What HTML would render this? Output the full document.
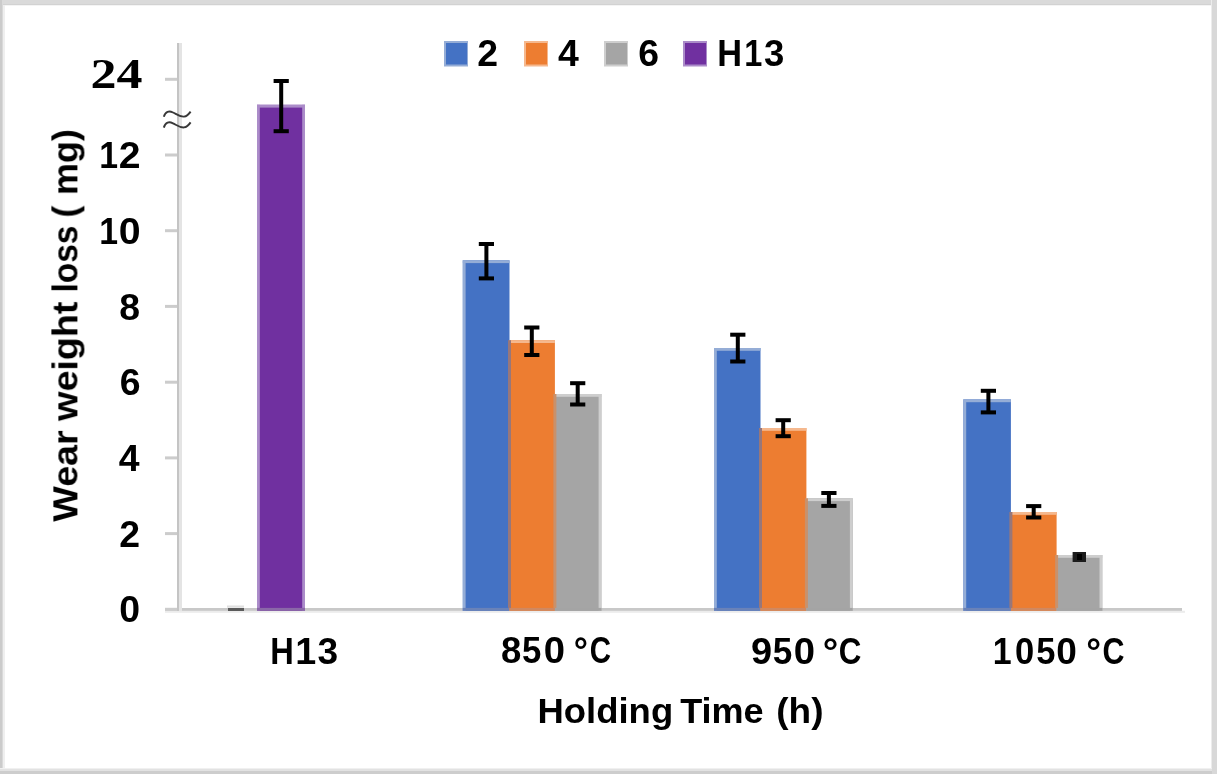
<!DOCTYPE html>
<html><head><meta charset="utf-8"><style>
html,body{margin:0;padding:0;background:#fff;}
body{width:1217px;height:774px;overflow:hidden;}
svg{display:block;}
.t{filter:url(#bl);}
</style></head><body>
<svg width="1217" height="774" viewBox="0 0 1217 774">
<defs><filter id="bl" x="-5%" y="-20%" width="110%" height="140%"><feGaussianBlur stdDeviation="0.5"/></filter></defs>
<rect x="0" y="0" width="1217" height="774" fill="#ffffff"/>
<rect x="0" y="0" width="1217" height="4" fill="#dadada"/>
<rect x="0" y="4" width="1217" height="1" fill="#d2d2d2"/>
<rect x="0" y="5" width="1217" height="1" fill="#f4f4f4"/>
<rect x="0" y="0" width="2" height="774" fill="#cbcbcb"/>
<rect x="2" y="4" width="1" height="770" fill="#d9d9d9"/>
<rect x="3" y="5" width="2" height="769" fill="#efefef"/>
<rect x="1211" y="0" width="1" height="774" fill="#ececec"/>
<rect x="1212" y="0" width="5" height="774" fill="#d8d8d8"/>
<rect x="0" y="768" width="1212" height="1" fill="#f0f0f0"/>
<rect x="0" y="769" width="1212" height="2" fill="#e2e2e2"/>
<rect x="0" y="771" width="1212" height="3" fill="#cdcdcd"/>
<rect x="165" y="608" width="1017" height="3" fill="#c8c8c8"/>
<rect x="165" y="610.8" width="1020" height="2" fill="#ececec"/>
<rect x="257.0" y="104.8" width="48.0" height="506.0" fill="#7030a0"/>
<rect x="257.0" y="104.8" width="48.0" height="2.8" fill="#ab8cc9"/>
<rect x="257.0" y="104.8" width="2.8" height="506.0" fill="#ab8cc9"/>
<rect x="302.2" y="104.8" width="2.8" height="506.0" fill="#ab8cc9"/>
<rect x="257.0" y="607.9" width="48.0" height="2.9" fill="#8a68a8"/>
<rect x="462.8" y="260.3" width="46.7" height="350.5" fill="#4472c4"/>
<rect x="462.8" y="260.3" width="46.7" height="2.8" fill="#95add6"/>
<rect x="462.8" y="260.3" width="2.8" height="350.5" fill="#95add6"/>
<rect x="462.8" y="607.9" width="46.7" height="2.9" fill="#6a82b8"/>
<rect x="509.5" y="340.2" width="45.4" height="270.6" fill="#ed7d31"/>
<rect x="509.5" y="340.2" width="45.4" height="2.8" fill="#f5b88e"/>
<rect x="509.5" y="607.9" width="45.4" height="2.9" fill="#d08860"/>
<rect x="554.9" y="394.0" width="46.5" height="216.8" fill="#a5a5a5"/>
<rect x="554.9" y="394.0" width="46.5" height="2.8" fill="#cecece"/>
<rect x="598.6" y="394.0" width="2.8" height="216.8" fill="#cecece"/>
<rect x="554.9" y="607.9" width="46.5" height="2.9" fill="#a4a4a4"/>
<rect x="508.0" y="340.2" width="3" height="267.7" fill="#98777a"/>
<rect x="553.4" y="394.0" width="3" height="213.9" fill="#c9916b"/>
<rect x="714.0" y="348.0" width="46.5" height="262.8" fill="#4472c4"/>
<rect x="714.0" y="348.0" width="46.5" height="2.8" fill="#95add6"/>
<rect x="714.0" y="348.0" width="2.8" height="262.8" fill="#95add6"/>
<rect x="714.0" y="607.9" width="46.5" height="2.9" fill="#6a82b8"/>
<rect x="760.5" y="428.0" width="45.9" height="182.8" fill="#ed7d31"/>
<rect x="760.5" y="428.0" width="45.9" height="2.8" fill="#f5b88e"/>
<rect x="760.5" y="607.9" width="45.9" height="2.9" fill="#d08860"/>
<rect x="806.4" y="498.3" width="46.3" height="112.5" fill="#a5a5a5"/>
<rect x="806.4" y="498.3" width="46.3" height="2.8" fill="#cecece"/>
<rect x="849.9" y="498.3" width="2.8" height="112.5" fill="#cecece"/>
<rect x="806.4" y="607.9" width="46.3" height="2.9" fill="#a4a4a4"/>
<rect x="759.0" y="428.0" width="3" height="179.9" fill="#98777a"/>
<rect x="804.9" y="498.3" width="3" height="109.6" fill="#c9916b"/>
<rect x="963.4" y="399.4" width="47.5" height="211.4" fill="#4472c4"/>
<rect x="963.4" y="399.4" width="47.5" height="2.8" fill="#95add6"/>
<rect x="963.4" y="399.4" width="2.8" height="211.4" fill="#95add6"/>
<rect x="963.4" y="607.9" width="47.5" height="2.9" fill="#6a82b8"/>
<rect x="1010.9" y="512.0" width="45.7" height="98.8" fill="#ed7d31"/>
<rect x="1010.9" y="512.0" width="45.7" height="2.8" fill="#f5b88e"/>
<rect x="1010.9" y="607.9" width="45.7" height="2.9" fill="#d08860"/>
<rect x="1056.6" y="555.0" width="45.7" height="55.8" fill="#a5a5a5"/>
<rect x="1056.6" y="555.0" width="45.7" height="2.8" fill="#cecece"/>
<rect x="1099.5" y="555.0" width="2.8" height="55.8" fill="#cecece"/>
<rect x="1056.6" y="607.9" width="45.7" height="2.9" fill="#a4a4a4"/>
<rect x="1009.4" y="512.0" width="3" height="95.9" fill="#98777a"/>
<rect x="1055.1" y="555.0" width="3" height="52.9" fill="#c9916b"/>
<rect x="177" y="43" width="2" height="568" fill="#c4c4c4"/>
<rect x="179" y="43" width="3" height="568" fill="#e4e4e4"/>
<rect x="165" y="607.8" width="12" height="3" fill="#cccccc"/>
<rect x="165" y="532.1" width="12" height="3" fill="#cccccc"/>
<rect x="165" y="456.4" width="12" height="3" fill="#cccccc"/>
<rect x="165" y="380.7" width="12" height="3" fill="#cccccc"/>
<rect x="165" y="304.9" width="12" height="3" fill="#cccccc"/>
<rect x="165" y="229.2" width="12" height="3" fill="#cccccc"/>
<rect x="165" y="153.5" width="12" height="3" fill="#cccccc"/>
<rect x="165" y="77.8" width="12" height="3" fill="#cccccc"/>
<rect x="227" y="605.5" width="17" height="2.2" fill="#e0e0e0"/>
<rect x="228" y="608" width="16" height="3" fill="#5a5a5a"/>
<rect x="279.2" y="81.0" width="4" height="50.2" fill="#000"/>
<rect x="273.6" y="79.0" width="15.2" height="4" fill="#000"/>
<rect x="273.6" y="129.2" width="15.2" height="4" fill="#000"/>
<rect x="484.4" y="244.0" width="4" height="34.4" fill="#000"/>
<rect x="478.8" y="242.0" width="15.2" height="4" fill="#000"/>
<rect x="478.8" y="276.4" width="15.2" height="4" fill="#000"/>
<rect x="529.8" y="327.5" width="4" height="27.5" fill="#000"/>
<rect x="524.2" y="325.5" width="15.2" height="4" fill="#000"/>
<rect x="524.2" y="353.0" width="15.2" height="4" fill="#000"/>
<rect x="575.7" y="383.2" width="4" height="21.3" fill="#000"/>
<rect x="570.1" y="381.2" width="15.2" height="4" fill="#000"/>
<rect x="570.1" y="402.5" width="15.2" height="4" fill="#000"/>
<rect x="735.8" y="334.7" width="4" height="26.8" fill="#000"/>
<rect x="730.2" y="332.7" width="15.2" height="4" fill="#000"/>
<rect x="730.2" y="359.5" width="15.2" height="4" fill="#000"/>
<rect x="781.2" y="420.2" width="4" height="16.0" fill="#000"/>
<rect x="775.6" y="418.2" width="15.2" height="4" fill="#000"/>
<rect x="775.6" y="434.2" width="15.2" height="4" fill="#000"/>
<rect x="826.9" y="493.0" width="4" height="12.9" fill="#000"/>
<rect x="821.3" y="491.0" width="15.2" height="4" fill="#000"/>
<rect x="821.3" y="503.9" width="15.2" height="4" fill="#000"/>
<rect x="986.4" y="390.8" width="4" height="21.6" fill="#000"/>
<rect x="980.8" y="388.8" width="15.2" height="4" fill="#000"/>
<rect x="980.8" y="410.4" width="15.2" height="4" fill="#000"/>
<rect x="1031.7" y="506.1" width="4" height="11.4" fill="#000"/>
<rect x="1026.1" y="504.1" width="15.2" height="4" fill="#000"/>
<rect x="1026.1" y="515.5" width="15.2" height="4" fill="#000"/>
<rect x="1072.6" y="552" width="13.4" height="10" fill="#1c1c1c"/>
<rect x="1077" y="554" width="5" height="6" fill="#000"/>
<rect x="444" y="41" width="24" height="25.5" fill="#95add6"/>
<rect x="446" y="43" width="21" height="21.5" fill="#4472c4"/>
<rect x="524" y="41" width="24" height="25.5" fill="#f5b88e"/>
<rect x="526" y="43" width="21" height="21.5" fill="#ed7d31"/>
<rect x="604" y="41" width="24" height="25.5" fill="#cecece"/>
<rect x="606" y="43" width="21" height="21.5" fill="#a5a5a5"/>
<rect x="683" y="41" width="24" height="25.5" fill="#ab8cc9"/>
<rect x="685" y="43" width="21" height="21.5" fill="#7030a0"/>
<text class="t" x="487.75" y="66.30" font-family='"Liberation Sans", sans-serif' font-weight="bold" font-size="37.4" fill="#000" text-anchor="middle">2</text>
<text class="t" x="568.45" y="66.30" font-family='"Liberation Sans", sans-serif' font-weight="bold" font-size="37.4" fill="#000" text-anchor="middle">4</text>
<text class="t" x="648.65" y="66.30" font-family='"Liberation Sans", sans-serif' font-weight="bold" font-size="37.4" fill="#000" text-anchor="middle">6</text>
<text class="t" x="729.75" y="66.30" font-family='"Liberation Sans", sans-serif' font-weight="bold" font-size="37.4" fill="#000" text-anchor="middle" textLength="24.79" lengthAdjust="spacingAndGlyphs">H</text>
<text class="t" x="753.25" y="66.30" font-family='"Liberation Sans", sans-serif' font-weight="bold" font-size="37.4" fill="#000" text-anchor="middle" textLength="18.08" lengthAdjust="spacingAndGlyphs">1</text>
<text class="t" x="774.15" y="66.30" font-family='"Liberation Sans", sans-serif' font-weight="bold" font-size="37.4" fill="#000" text-anchor="middle" textLength="20.32" lengthAdjust="spacingAndGlyphs">3</text>
<text class="t" x="129.60" y="621.70" font-family='"Liberation Sans", sans-serif' font-weight="bold" font-size="37.4" fill="#000" text-anchor="middle">0</text>
<text class="t" x="129.60" y="546.70" font-family='"Liberation Sans", sans-serif' font-weight="bold" font-size="37.4" fill="#000" text-anchor="middle">2</text>
<text class="t" x="129.10" y="470.60" font-family='"Liberation Sans", sans-serif' font-weight="bold" font-size="37.4" fill="#000" text-anchor="middle">4</text>
<text class="t" x="130.20" y="395.10" font-family='"Liberation Sans", sans-serif' font-weight="bold" font-size="37.4" fill="#000" text-anchor="middle">6</text>
<text class="t" x="129.60" y="319.50" font-family='"Liberation Sans", sans-serif' font-weight="bold" font-size="37.4" fill="#000" text-anchor="middle">8</text>
<text class="t" x="108.75" y="243.80" font-family='"Liberation Sans", sans-serif' font-weight="bold" font-size="37.4" fill="#000" text-anchor="middle" textLength="18.81" lengthAdjust="spacingAndGlyphs">1</text>
<text class="t" x="129.60" y="243.80" font-family='"Liberation Sans", sans-serif' font-weight="bold" font-size="37.4" fill="#000" text-anchor="middle" textLength="21.86" lengthAdjust="spacingAndGlyphs">0</text>
<text class="t" x="108.75" y="168.30" font-family='"Liberation Sans", sans-serif' font-weight="bold" font-size="37.4" fill="#000" text-anchor="middle" textLength="18.81" lengthAdjust="spacingAndGlyphs">1</text>
<text class="t" x="129.60" y="168.30" font-family='"Liberation Sans", sans-serif' font-weight="bold" font-size="37.4" fill="#000" text-anchor="middle" textLength="21.79" lengthAdjust="spacingAndGlyphs">2</text>
<text class="t" x="282.00" y="663.70" font-family='"Liberation Sans", sans-serif' font-weight="bold" font-size="37.4" fill="#000" text-anchor="middle" textLength="23.55" lengthAdjust="spacingAndGlyphs">H</text>
<text class="t" x="305.70" y="663.70" font-family='"Liberation Sans", sans-serif' font-weight="bold" font-size="37.4" fill="#000" text-anchor="middle" textLength="20.97" lengthAdjust="spacingAndGlyphs">1</text>
<text class="t" x="327.90" y="663.70" font-family='"Liberation Sans", sans-serif' font-weight="bold" font-size="37.4" fill="#000" text-anchor="middle" textLength="20.64" lengthAdjust="spacingAndGlyphs">3</text>
<text class="t" x="511.25" y="663.30" font-family='"Liberation Sans", sans-serif' font-weight="bold" font-size="37.4" fill="#000" text-anchor="middle" textLength="20.31" lengthAdjust="spacingAndGlyphs">8</text>
<text class="t" x="531.60" y="663.30" font-family='"Liberation Sans", sans-serif' font-weight="bold" font-size="37.4" fill="#000" text-anchor="middle" textLength="19.32" lengthAdjust="spacingAndGlyphs">5</text>
<text class="t" x="554.35" y="663.30" font-family='"Liberation Sans", sans-serif' font-weight="bold" font-size="37.4" fill="#000" text-anchor="middle" textLength="21.27" lengthAdjust="spacingAndGlyphs">0</text>
<text class="t" x="580.95" y="663.30" font-family='"Liberation Sans", sans-serif' font-weight="bold" font-size="37.4" fill="#000" text-anchor="middle" textLength="14.21" lengthAdjust="spacingAndGlyphs">°</text>
<text class="t" x="600.50" y="663.30" font-family='"Liberation Sans", sans-serif' font-weight="bold" font-size="37.4" fill="#000" text-anchor="middle" textLength="21.28" lengthAdjust="spacingAndGlyphs">C</text>
<text class="t" x="761.60" y="663.50" font-family='"Liberation Sans", sans-serif' font-weight="bold" font-size="37.4" fill="#000" text-anchor="middle" textLength="21.11" lengthAdjust="spacingAndGlyphs">9</text>
<text class="t" x="782.50" y="663.50" font-family='"Liberation Sans", sans-serif' font-weight="bold" font-size="37.4" fill="#000" text-anchor="middle" textLength="19.52" lengthAdjust="spacingAndGlyphs">5</text>
<text class="t" x="804.35" y="663.50" font-family='"Liberation Sans", sans-serif' font-weight="bold" font-size="37.4" fill="#000" text-anchor="middle" textLength="21.27" lengthAdjust="spacingAndGlyphs">0</text>
<text class="t" x="830.45" y="663.50" font-family='"Liberation Sans", sans-serif' font-weight="bold" font-size="37.4" fill="#000" text-anchor="middle" textLength="15.54" lengthAdjust="spacingAndGlyphs">°</text>
<text class="t" x="850.10" y="663.50" font-family='"Liberation Sans", sans-serif' font-weight="bold" font-size="37.4" fill="#000" text-anchor="middle" textLength="22.64" lengthAdjust="spacingAndGlyphs">C</text>
<text class="t" x="1002.25" y="663.50" font-family='"Liberation Sans", sans-serif' font-weight="bold" font-size="37.4" fill="#000" text-anchor="middle" textLength="18.89" lengthAdjust="spacingAndGlyphs">1</text>
<text class="t" x="1024.55" y="663.50" font-family='"Liberation Sans", sans-serif' font-weight="bold" font-size="37.4" fill="#000" text-anchor="middle" textLength="19.20" lengthAdjust="spacingAndGlyphs">0</text>
<text class="t" x="1045.95" y="663.50" font-family='"Liberation Sans", sans-serif' font-weight="bold" font-size="37.4" fill="#000" text-anchor="middle" textLength="19.20" lengthAdjust="spacingAndGlyphs">5</text>
<text class="t" x="1066.45" y="663.50" font-family='"Liberation Sans", sans-serif' font-weight="bold" font-size="37.4" fill="#000" text-anchor="middle" textLength="20.59" lengthAdjust="spacingAndGlyphs">0</text>
<text class="t" x="1093.65" y="663.50" font-family='"Liberation Sans", sans-serif' font-weight="bold" font-size="37.4" fill="#000" text-anchor="middle" textLength="14.83" lengthAdjust="spacingAndGlyphs">°</text>
<text class="t" x="1113.40" y="663.50" font-family='"Liberation Sans", sans-serif' font-weight="bold" font-size="37.4" fill="#000" text-anchor="middle" textLength="21.99" lengthAdjust="spacingAndGlyphs">C</text>
<text class="t" x="605.35" y="723.10" font-family='"Liberation Sans", sans-serif' font-weight="bold" font-size="34.8" fill="#000" text-anchor="middle" textLength="135.67" lengthAdjust="spacingAndGlyphs">Holding</text>
<text class="t" x="721.90" y="723.10" font-family='"Liberation Sans", sans-serif' font-weight="bold" font-size="34.8" fill="#000" text-anchor="middle" textLength="83.50" lengthAdjust="spacingAndGlyphs">Time</text>
<text class="t" x="799.85" y="723.10" font-family='"Liberation Sans", sans-serif' font-weight="bold" font-size="34.8" fill="#000" text-anchor="middle" textLength="47.21" lengthAdjust="spacingAndGlyphs">(h)</text>
<text class="t" x="0.00" y="0.00" font-family='"Liberation Sans", sans-serif' font-weight="bold" font-size="34.8" fill="#000" text-anchor="middle" textLength="91.30" lengthAdjust="spacingAndGlyphs" transform="translate(77.40,475.95) rotate(-90)">Wear</text>
<text class="t" x="0.00" y="0.00" font-family='"Liberation Sans", sans-serif' font-weight="bold" font-size="34.8" fill="#000" text-anchor="middle" textLength="119.32" lengthAdjust="spacingAndGlyphs" transform="translate(77.40,361.15) rotate(-90)">weight</text>
<text class="t" x="0.00" y="0.00" font-family='"Liberation Sans", sans-serif' font-weight="bold" font-size="34.8" fill="#000" text-anchor="middle" textLength="66.85" lengthAdjust="spacingAndGlyphs" transform="translate(77.40,258.95) rotate(-90)">loss</text>
<text class="t" x="0.00" y="0.00" font-family='"Liberation Sans", sans-serif' font-weight="bold" font-size="34.8" fill="#000" text-anchor="middle" textLength="11.81" lengthAdjust="spacingAndGlyphs" transform="translate(77.40,211.55) rotate(-90)">(</text>
<text class="t" x="0.00" y="0.00" font-family='"Liberation Sans", sans-serif' font-weight="bold" font-size="34.8" fill="#000" text-anchor="middle" textLength="66.06" lengthAdjust="spacingAndGlyphs" transform="translate(77.40,162.10) rotate(-90)">mg)</text>
<text class="t" x="142.5" y="88" font-family='"Liberation Serif", serif' font-weight="bold" font-size="42" text-anchor="end" textLength="52" lengthAdjust="spacingAndGlyphs" fill="#000">24</text>
<g fill="none" stroke="#383838" stroke-width="1.9" stroke-linecap="butt"><path d="M163.8,116.8 C165.5,111.2 169,110.6 173,112.5 C177,114.5 180,117 184,116.6 C187,116.2 189,114 190.6,111.6"/><path d="M163.8,127.6 C165.5,122 169,121.4 173,123.3 C177,125.3 180,127.8 184,127.4 C187,127 189,124.8 190.6,122.4"/></g>
</svg>
</body></html>
